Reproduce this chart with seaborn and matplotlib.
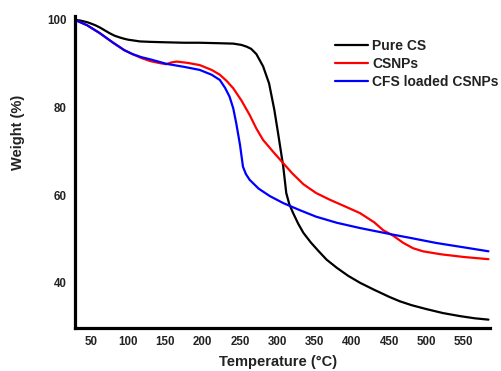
import numpy as np
import pandas as pd
import matplotlib
matplotlib.use("Agg")
import matplotlib.pyplot as plt
import seaborn as sns

# Pure CS (black)
cs_temp = [29, 35, 40, 45, 50, 56, 62, 68, 75, 82, 89, 95, 100, 108, 116, 130, 151, 175,
           196, 220, 241, 252, 259, 265, 272, 281, 289, 296, 301, 308, 312, 316, 321, 328,
           335, 345, 355, 366, 380, 395, 411, 430, 450, 464, 480, 500, 522, 545, 565, 583]
cs_weight = [100, 99.9, 99.7, 99.5, 99.2, 98.8, 98.3, 97.7, 97.0, 96.4, 96.0, 95.7, 95.5,
             95.3, 95.1, 95.0, 94.9, 94.8, 94.8, 94.7, 94.6, 94.3, 93.9, 93.4, 92.2, 89.4,
             85.5, 79.5, 74.2, 66.5, 60.5, 58.0, 56.0, 53.5, 51.4, 49.2, 47.3, 45.3, 43.4,
             41.6, 40.0, 38.4, 36.8, 35.8, 34.9, 34.0, 33.1, 32.4, 31.9, 31.6]

# CSNPs (red)
np_temp = [29, 45, 62, 80, 95, 106, 118, 130, 141, 151, 158, 165, 180, 196, 212, 223, 232,
           241, 252, 263, 272, 281, 295, 308, 320, 335, 352, 370, 390, 411, 430, 442, 455,
           469, 482, 495, 520, 550, 583]
np_weight = [100, 98.8, 97.0, 94.8, 93.1, 92.2, 91.3, 90.6, 90.2, 89.9, 90.3, 90.5, 90.2,
             89.7, 88.6, 87.5, 86.1, 84.4, 81.6, 78.3, 75.2, 72.6, 69.8, 67.3, 65.0, 62.5,
             60.5, 59.0, 57.5, 55.9, 53.8, 52.0, 50.8, 49.1, 47.9, 47.2, 46.5, 45.9, 45.4]

# CFS loaded CSNPs (blue)
cfs_temp = [29, 45, 62, 80, 95, 106, 118, 130, 151, 175, 196, 212, 223, 230, 236, 241, 245,
            250, 254, 258, 263, 275, 290, 308, 330, 352, 380, 411, 455, 480, 513, 550, 583]
cfs_weight = [100, 98.8, 97.0, 94.8, 93.1, 92.2, 91.5, 91.0, 90.0, 89.3, 88.6, 87.5, 86.3,
              84.5, 82.5, 79.8, 76.4, 71.5, 66.5, 64.8, 63.5, 61.5, 59.8, 58.2, 56.6, 55.1,
              53.7, 52.5, 51.0, 50.2, 49.1, 48.1, 47.2]

labels = ["Pure CS", "CSNPs", "CFS loaded CSNPs"]
colors = ["#000000", "#ff0000", "#0000ff"]
x_ticks = [50, 100, 150, 200, 250, 300, 350, 400, 450, 500, 550]
y_ticks = [40, 60, 80, 100]

df = pd.concat([
    pd.DataFrame({"Temperature": cs_temp, "Weight": cs_weight, "Sample": labels[0]}),
    pd.DataFrame({"Temperature": np_temp, "Weight": np_weight, "Sample": labels[1]}),
    pd.DataFrame({"Temperature": cfs_temp, "Weight": cfs_weight, "Sample": labels[2]}),
])

sns.set_style("white")
plt.rcParams["font.family"] = ["Liberation Sans", "DejaVu Sans"]
plt.rcParams["font.weight"] = "bold"

fig = plt.figure(figsize=(5.02, 3.71), dpi=100)
ax = fig.add_axes([0.149, 0.116, 0.827, 0.842])

sns.lineplot(data=df, x="Temperature", y="Weight", hue="Sample", hue_order=labels,
             palette=colors, linewidth=1.6, ax=ax, sort=True, estimator=None)

ax.set_xlim(28.6, 585)
ax.set_ylim(29.7, 101)
ax.set_xticks(x_ticks)
ax.set_yticks(y_ticks)
ax.tick_params(axis="both", length=0, labelsize=8.3, pad=6)
for lab in ax.get_xticklabels() + ax.get_yticklabels():
    lab.set_fontweight("bold")
    lab.set_color("#222222")

ax.spines[["right", "top"]].set_visible(False)
for side in ["left", "bottom"]:
    ax.spines[side].set_linewidth(2.3)
    ax.spines[side].set_color("black")

ax.set_xlabel("Temperature (°C)", fontsize=10.5, fontweight="bold", color="#222222")
ax.set_ylabel("Weight (%)", fontsize=10.5, fontweight="bold", color="#222222")
ax.xaxis.set_label_coords(0.489, -0.088)
ax.yaxis.set_label_coords(-0.12, 0.627)

leg = ax.legend(loc="upper left", bbox_to_anchor=(0.627, 0.925), frameon=False,
                fontsize=10, handlelength=2.37, handletextpad=0.3, labelspacing=0.3,
                borderpad=0, borderaxespad=0)
for t in leg.get_texts():
    t.set_fontweight("bold")
    t.set_color("#222222")

fig.savefig("out.png", dpi=100)
